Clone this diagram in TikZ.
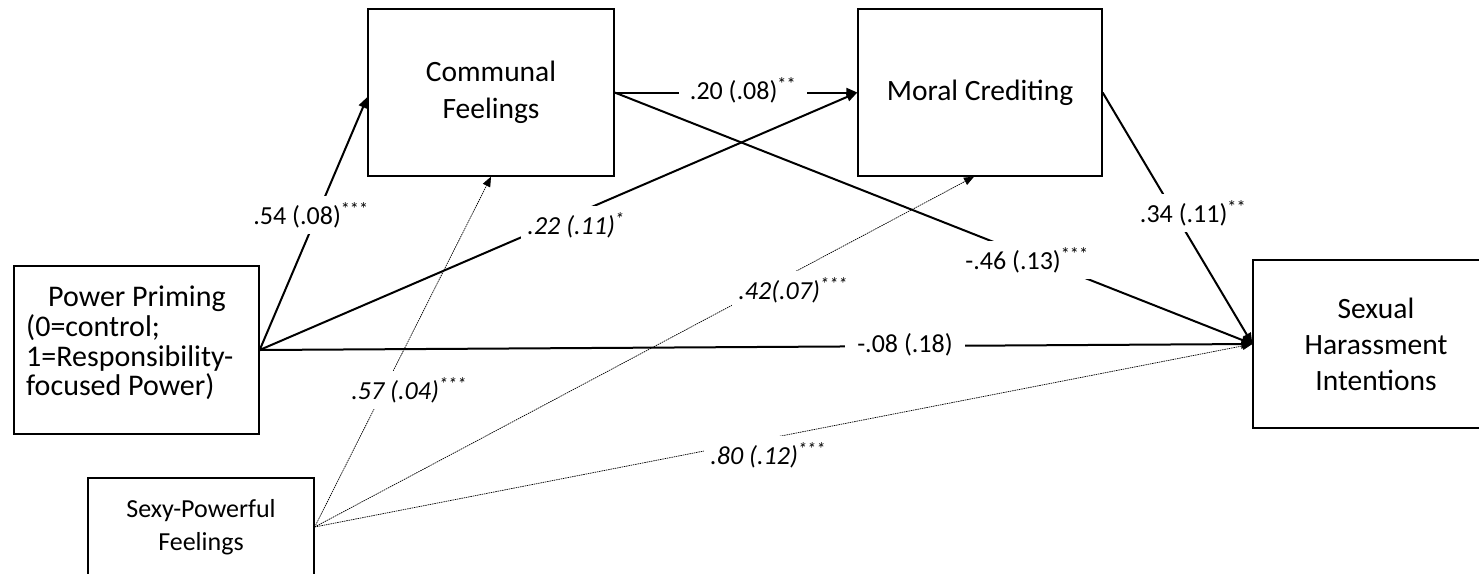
\documentclass[tikz,border=0pt]{standalone}
\usepackage{fontspec}
\setmainfont{Carlito}
\usetikzlibrary{arrows.meta}
\begin{document}
\begin{tikzpicture}[x=1pt,y=-1pt,
  box/.style={draw, line width=1.3pt, inner sep=0pt, align=center},
  big/.style={font=\fontsize{29.5}{37}\selectfont},
  lab/.style={fill=white, inner sep=6pt, font=\fontsize{26}{30}\selectfont},
  ilab/.style={lab, font=\fontsize{26}{30}\selectfont\itshape},
  solidpath/.style={line width=2pt, -{Triangle[length=11pt,width=9pt]}},
  dotpath/.style={line width=0.7pt, draw=black, dash pattern=on 1.5pt off 0.8pt, -{Triangle[length=10pt,width=8pt]}}
]
\useasboundingbox (0,0) rectangle (1479,573);
% boxes
\node[box, minimum width=245pt, minimum height=168pt] (power) at (136.5,350) {};
\node[anchor=west, align=left, inner sep=0pt, font=\fontsize{30}{29.7}\selectfont] (powertext) at (26,343)
  {\hspace*{22pt}Power Priming\\(0=control;\\1=Responsibility-\\focused Power)};
\node[box, minimum width=226pt, minimum height=98pt, font=\fontsize{26}{33}\selectfont] (sexy) at (201,527) {Sexy-Powerful\\Feelings};
\node[box, big, minimum width=246pt, minimum height=167pt] (comm) at (491,92.5) {Communal\\Feelings};
\node[box, big, minimum width=244pt, minimum height=167pt] (moral) at (980,92.5) {Moral Crediting};
\node[box, big, minimum width=246pt, minimum height=168pt, font=\fontsize{29.5}{36}\selectfont] (sexual) at (1376,344) {Sexual\\Harassment\\Intentions};
% connectors
\draw[solidpath] (power.east) -- ([yshift=-4.5pt]comm.west);
\draw[solidpath] (power.east) -- (moral.west);
\draw[solidpath] (comm.east) -- (moral.west);
\draw[solidpath] (comm.east) -- (sexual.west);
\draw[solidpath] (moral.east) -- (sexual.west);
\draw[solidpath] (power.east) -- (sexual.west);
\draw[dotpath] (sexy.east) -- (comm.south);
\draw[dotpath] (sexy.east) -- ([xshift=-6pt]moral.south);
\draw[dotpath] (sexy.east) -- (sexual.west);
% labels
\node[lab] (l54) at (311,215) {.54 (.08)\textsuperscript{***}};
\node[ilab] (l22) at (576,225) {.22 (.11)\textsuperscript{*}};
\node[lab, inner xsep=11pt] (l20) at (743,90) {.20 (.08)\textsuperscript{**}};
\node[lab] (l46) at (1027,260) {-.46 (.13)\textsuperscript{***}};
\node[lab] (l34) at (1193,213) {.34 (.11)\textsuperscript{**}};
\node[lab, inner xsep=12pt] (l08) at (905,345) {-.08 (.18)};
\node[ilab] (l57) at (409,390) {.57 (.04)\textsuperscript{***}};
\node[ilab] (l42) at (793,290) {.42(.07)\textsuperscript{***}};
\node[ilab] (l80) at (768,455) {.80 (.12)\textsuperscript{***}};
\end{tikzpicture}
\end{document}
